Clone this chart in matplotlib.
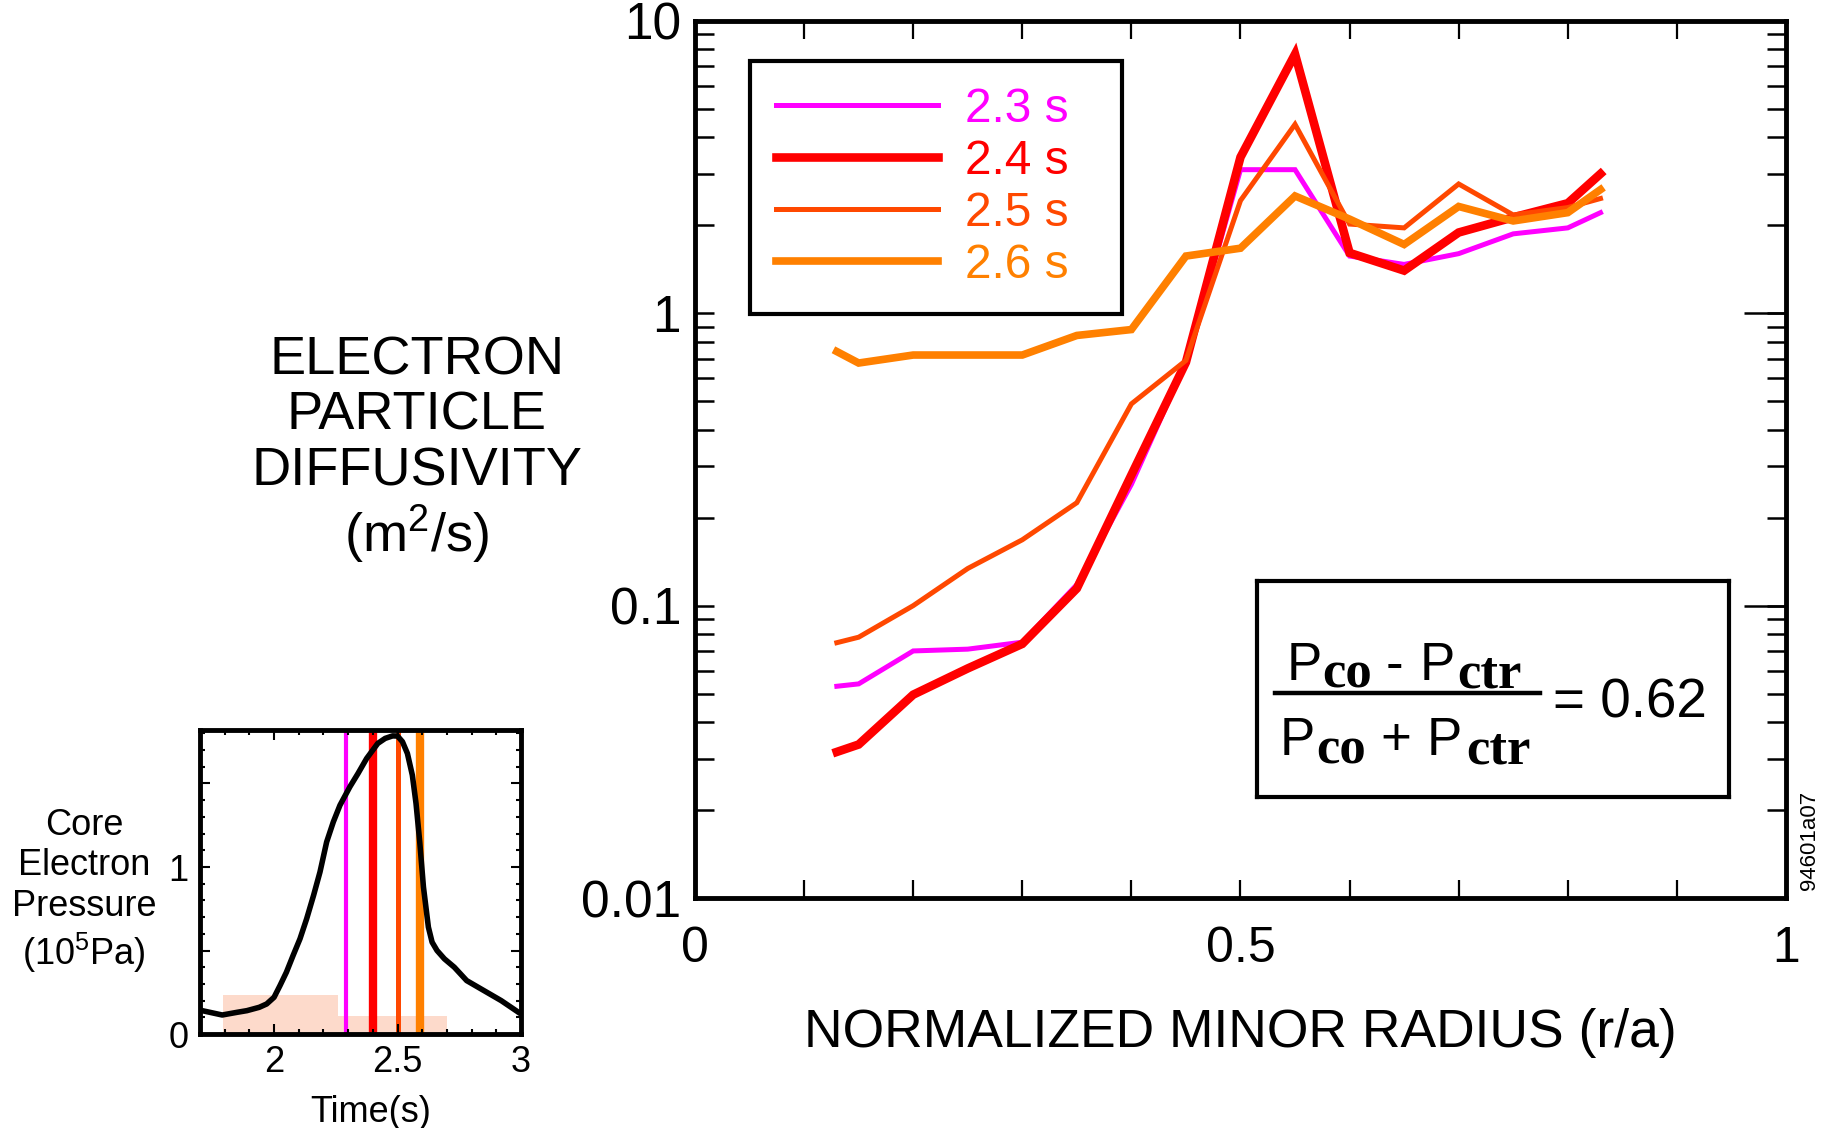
import matplotlib
matplotlib.use('Agg')
import matplotlib.pyplot as plt
from matplotlib.ticker import MultipleLocator, FixedLocator, FuncFormatter, NullFormatter

plt.rcParams['font.family'] = ['Liberation Sans', 'DejaVu Sans']
plt.rcParams['mathtext.default'] = 'regular'

# main panel: diffusivity profiles
radius = [0.13, 0.15, 0.2, 0.25, 0.3, 0.35, 0.4, 0.45, 0.5, 0.55, 0.6, 0.65, 0.7, 0.75, 0.8, 0.83]
d_23 = [0.053, 0.054, 0.070, 0.071, 0.075, 0.118, 0.26, 0.68, 3.1, 3.1, 1.57, 1.47, 1.60, 1.87, 1.96, 2.21]
d_24 = [0.0316, 0.0335, 0.0496, 0.061, 0.074, 0.1145, 0.28, 0.68, 3.42, 7.7, 1.61, 1.40, 1.89, 2.13, 2.38, 3.0]
d_25 = [0.0747, 0.078, 0.10, 0.134, 0.168, 0.225, 0.49, 0.69, 2.43, 4.43, 2.02, 1.96, 2.77, 2.17, 2.30, 2.47]
d_26 = [0.74, 0.676, 0.72, 0.72, 0.72, 0.84, 0.88, 1.57, 1.67, 2.52, 2.10, 1.72, 2.32, 2.07, 2.21, 2.65]
labels = ['2.3 s', '2.4 s', '2.5 s', '2.6 s']
colors = ['#FF00FF', '#FF0000', '#FF4800', '#FF8000']
widths = [3.6, 6.2, 3.6, 5.5]

y_ticks = [0.01, 0.1, 1, 10]
y_ticklabels = ['0.01', '0.1', '1', '10']

# inset: core electron pressure vs time
time = [1.69, 1.74, 1.79, 1.85, 1.89, 1.94, 1.97, 2.00, 2.024, 2.05, 2.077, 2.105, 2.132, 2.16,
        2.186, 2.213, 2.24, 2.267, 2.307, 2.34, 2.375, 2.42, 2.45, 2.48, 2.50, 2.52, 2.54,
        2.56, 2.575, 2.59, 2.605, 2.625, 2.64, 2.66, 2.69, 2.73, 2.78, 2.85, 2.92, 2.99]
pressure = [0.146, 0.13, 0.114, 0.13, 0.14, 0.16, 0.18, 0.22, 0.29, 0.37, 0.47, 0.57, 0.69, 0.83,
            0.97, 1.15, 1.27, 1.37, 1.48, 1.56, 1.65, 1.74, 1.77, 1.785, 1.784, 1.75, 1.68,
            1.55, 1.38, 1.15, 0.88, 0.64, 0.55, 0.5, 0.45, 0.40, 0.32, 0.26, 0.20, 0.13]
slice_times = [2.29, 2.40, 2.50, 2.59]
slice_widths = [3.0, 6.0, 3.6, 6.0]
shade_left = [1.795, 2.258]
shade_right = [2.258, 2.70]
shade_top = [0.236, 0.11]

fig = plt.figure(figsize=(18.28, 11.28), dpi=100)

ax = fig.add_axes([0.3802, 0.2039, 0.5968, 0.7775])
for vals, lab, c, lw in zip([d_23, d_24, d_25, d_26], labels, colors, widths):
    ax.plot(radius, vals, color=c, lw=lw, label=lab, solid_joinstyle='miter')

ax.set_yscale('log')
ax.set_xlim(0, 1)
ax.set_ylim(0.01, 10)

# longer major ticks on the right side only
tw = ax.twinx()
tw.set_yscale('log')
tw.set_ylim(0.01, 10)
tw.yaxis.set_major_locator(FixedLocator(y_ticks))
tw.yaxis.set_minor_locator(FixedLocator([]))
tw.tick_params(axis='y', which='major', direction='in', length=30, width=1.8, labelright=False)
for s in tw.spines.values():
    s.set_visible(False)

ax.xaxis.set_major_locator(MultipleLocator(0.1))
ax.xaxis.set_major_formatter(FuncFormatter(
    lambda v, p: {0.0: '0', 0.5: '0.5', 1.0: '1'}.get(round(v, 2), '')))
ax.set_yticks(y_ticks, y_ticklabels)
minor_y = [m * d for d in y_ticks[:-1] for m in range(2, 10)]
ax.yaxis.set_minor_locator(FixedLocator(minor_y))
ax.yaxis.set_minor_formatter(NullFormatter())
ax.tick_params(axis='x', which='major', direction='in', top=True, length=13, width=1.6,
               labelsize=36, pad=20)
ax.tick_params(axis='y', which='both', direction='in', left=True, right=True, length=14, width=1.8,
               labelsize=37, pad=10)
for s in ax.spines.values():
    s.set_linewidth(3.5)
ax.set_zorder(tw.get_zorder() + 1)
ax.patch.set_visible(False)

ax.set_xlabel('NORMALIZED MINOR RADIUS (r/a)', fontsize=38.5, labelpad=26)
ax.set_ylabel('ELECTRON\nPARTICLE\nDIFFUSIVITY\n(m$^2$/s)', fontsize=39, rotation=0,
              ha='center', va='center', linespacing=1.14)
ax.yaxis.set_label_coords(-0.255, 0.5105)

leg = ax.legend(loc='upper left', bbox_to_anchor=(0.050, 0.8548, 0.341, 0.1), mode='expand',
                borderaxespad=0, fontsize=34.5, fancybox=False, edgecolor='black', framealpha=1,
                handlelength=3.38, handletextpad=0.56, borderpad=0.55, labelspacing=0.144)
leg.get_frame().set_linewidth(3)
for t, c in zip(leg.get_texts(), colors):
    t.set_color(c)

# ratio box
box = fig.add_axes([0.6877, 0.2934, 0.2582, 0.1915])
box.set_xlim(0, 1)
box.set_ylim(0, 1)
box.set_xticks([])
box.set_yticks([])
for s in box.spines.values():
    s.set_linewidth(3)
sans = dict(fontsize=38, ha='left', va='baseline', transform=box.transAxes)
sub = dict(fontsize=38, ha='left', va='baseline', family='Liberation Serif', weight='bold',
           transform=box.transAxes)
box.text(0.062, 0.542, 'P', **sans)
box.text(0.138, 0.507, 'co', **sub)
box.text(0.272, 0.542, '-', **sans)
box.text(0.345, 0.542, 'P', **sans)
box.text(0.424, 0.507, 'ctr', **sub)
box.text(0.047, 0.196, 'P', **sans)
box.text(0.125, 0.155, 'co', **sub)
box.text(0.262, 0.196, '+', **sans)
box.text(0.360, 0.196, 'P', **sans)
box.text(0.443, 0.155, 'ctr', **sub)
box.plot([0.038, 0.600], [0.481, 0.481], color='black', lw=3.2)
box.text(0.626, 0.37, '= 0.62', fontsize=39.5, ha='left', va='baseline', transform=box.transAxes)

fig.text(1809 / 1828, 1 - 840 / 1128, '94601a07', rotation=90, fontsize=16, ha='center', va='center')

# inset
ins = fig.add_axes([0.1094, 0.0833, 0.1756, 0.2695])
ins.bar(shade_left, shade_top, width=[r - l for l, r in zip(shade_left, shade_right)],
        align='edge', color='#FDDACB', zorder=0)
for t, c, lw in zip(slice_times, colors, slice_widths):
    ins.axvline(t, color=c, lw=lw, zorder=1)
ins.plot(time, pressure, color='black', lw=4, zorder=2)
ins.set_xlim(1.7, 3.0)
ins.set_ylim(0, 1.82)
ins.set_xticks([2, 2.5, 3], ['2', '2.5', '3'])
ins.set_yticks([0, 0.5, 1, 1.5], ['0', '', '1', ''])
ins.xaxis.set_minor_locator(MultipleLocator(0.1))
ins.yaxis.set_minor_locator(MultipleLocator(0.1))
ins.tick_params(which='both', direction='in', top=True, right=True, labelsize=26, width=1.5, pad=8)
ins.tick_params(which='major', length=7)
ins.tick_params(which='minor', length=3.5)
for s in ins.spines.values():
    s.set_linewidth(3.5)
ins.set_xlabel('Time(s)', fontsize=26, labelpad=6)
ins.xaxis.set_label_coords(0.532, -0.2)
ins.set_ylabel('Core\nElectron\nPressure\n(10$^5$Pa)', fontsize=26, rotation=0,
               ha='center', va='center', linespacing=1.2)
ins.yaxis.set_label_coords(-0.361, 0.47)

fig.savefig('out.png', dpi=100)
